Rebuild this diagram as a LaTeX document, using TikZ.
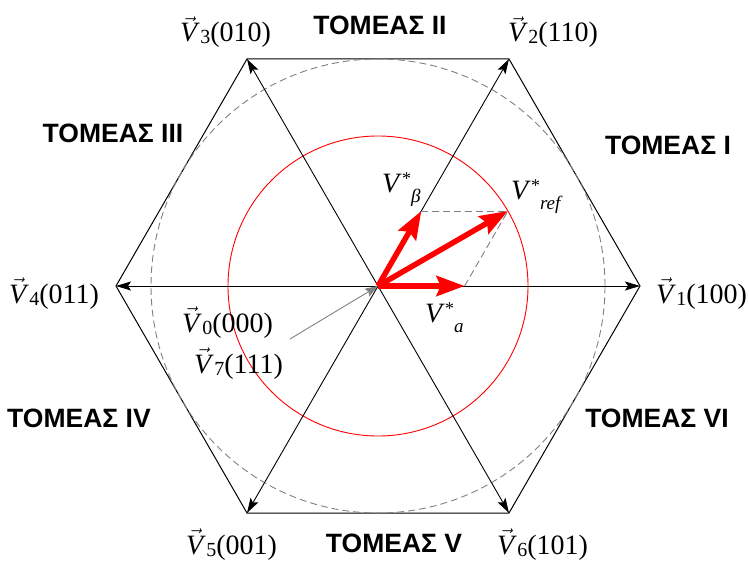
\documentclass[tikz,border=0pt]{standalone}
\usepackage{fontspec}
\setmainfont{Liberation Serif}
\setsansfont{Liberation Sans}
\usetikzlibrary{arrows.meta,positioning}

\newcommand{\vecV}[2]{$\vec{\mbox{\itshape V}}$\kern3pt\raisebox{-2pt}{\fontsize{20}{20}\selectfont #1}(#2)}
\newcommand{\starV}[1]{\textit{V}\raisebox{8pt}{\fontsize{18}{18}\selectfont *}\raisebox{-10pt}{\fontsize{19}{19}\selectfont\itshape #1}}

\begin{document}
\begin{tikzpicture}[
    x=1pt, y=-1pt,
    sector/.style={inner sep=0pt, anchor=base, font=\sffamily\bfseries\fontsize{26.5}{28}\selectfont},
    vlab/.style={inner sep=0pt, anchor=base west, font=\fontsize{28}{30}\selectfont},
    arrow/.style={-{Stealth[length=15pt,width=9pt,inset=3pt]}, line width=0.9pt},
    redarrow/.style={-{Stealth[length=28pt,width=20pt,inset=4pt]}, red, line width=5.5pt},
    grayarrow/.style={-{Stealth[length=13pt,width=9pt,inset=2pt]}, gray, line width=0.9pt},
    guide/.style={gray, dash pattern=on 7pt off 4pt, line width=0.9pt}
  ]
    \useasboundingbox (0,0) rectangle (749,561);

    \coordinate (o) at (378,286);
    \coordinate (v1) at (640,286);
    \coordinate (v2) at (509,59);
    \coordinate (v3) at (247,59);
    \coordinate (v4) at (116,286);
    \coordinate (v5) at (247,513);
    \coordinate (v6) at (509,513);
    \coordinate (at) at (464.6,286);
    \coordinate (bt) at (421.3,211);
    \coordinate (rt) at (507.9,211);
    \coordinate (gs) at (290,339);

    \draw[line width=1pt] (v1) -- (v2) -- (v3) -- (v4) -- (v5) -- (v6) -- cycle;
    \draw[guide] (o) circle[radius=227pt];
    \draw[red, line width=0.9pt] (o) circle[radius=150pt];
    \foreach \i in {1,...,6}
      \draw[arrow] (o) -- (v\i);

    \draw[guide] (bt) -- (rt);
    \draw[guide] (at) -- (rt);
    \draw[redarrow] (o) -- (at);
    \draw[redarrow] (o) -- (bt);
    \draw[redarrow] (o) -- (rt);
    \draw[grayarrow] (gs) -- (o);

    \node[vlab] (v1lab) at (656,303) {\vecV{1}{100}};
    \node[vlab] (v2lab) at (508,42) {\vecV{2}{110}};
    \node[vlab] (v3lab) at (180,42) {\vecV{3}{010}};
    \node[vlab] (v4lab) at (9,303) {\vecV{4}{011}};
    \node[vlab] (v5lab) at (186,554) {\vecV{5}{001}};
    \node[vlab] (v6lab) at (497,554) {\vecV{6}{101}};
    \node[vlab] (v0lab) at (182,332) {\vecV{0}{000}};
    \node[vlab] (v7lab) at (194,373) {\vecV{7}{111}};

    \node[vlab] (betalab) at (382,193) {\starV{β}};
    \node[vlab] (reflab) at (511,200) {\starV{ref}};
    \node[vlab] (alab) at (425,322) {\starV{a}};

    \node[sector] (s1) at (668,155) {ΤΟΜΕΑΣ I};
    \node[sector] (s2) at (380,35) {ΤΟΜΕΑΣ II};
    \node[sector] (s3) at (113,143) {ΤΟΜΕΑΣ III};
    \node[sector] (s4) at (79,427) {ΤΟΜΕΑΣ IV};
    \node[sector] (s5) at (394,552) {ΤΟΜΕΑΣ V};
    \node[sector] (s6) at (657,427) {ΤΟΜΕΑΣ VI};
  \end{tikzpicture}
\end{document}
